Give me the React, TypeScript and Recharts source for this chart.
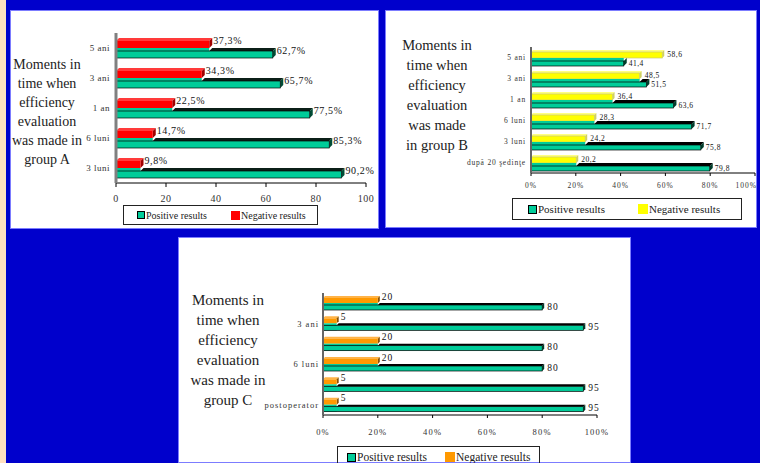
import { BarChart, Bar, XAxis, YAxis, LabelList } from "recharts";

// group A
const momentsA = ["5 ani", "3 ani", "1 an", "6 luni", "3 luni"];
const positiveA = [62.7, 65.7, 77.5, 85.3, 90.2];
const negativeA = [37.3, 34.3, 22.5, 14.7, 9.8];

// group B
const momentsB = ["5 ani", "3 ani", "1 an", "6 luni", "3 luni", "după 20 şedinţe"];
const positiveB = [41.4, 51.5, 63.6, 71.7, 75.8, 79.8];
const negativeB = [58.6, 48.5, 36.4, 28.3, 24.2, 20.2];

// group C (only every second moment is labelled on the axis)
const momentsC = ["5 ani", "3 ani", "1 an", "6 luni", "3 luni", "postoperator"];
const positiveC = [80, 95, 80, 80, 95, 95];
const negativeC = [20, 5, 20, 20, 5, 5];

const xTicks = [0, 20, 40, 60, 80, 100];
const axisTitleLines = {
  A: ["Moments in", "time when", "efficiency", "evaluation", "was made in", "group A"],
  B: ["Moments in", "time when", "efficiency", "evaluation", "was made", "in group B"],
  C: ["Moments in", "time when", "efficiency", "evaluation", "was made in", "group C"],
};
const legendLabels = ["Positive results", "Negative results"];

const SERIF = "Liberation Serif, DejaVu Serif, serif";
const GREEN = "#00cc99";

function rows(moments: string[], pos: number[], neg: number[]) {
  return moments.map((m, i) => ({ moment: m, pos: pos[i], neg: neg[i] }));
}

const dataA = rows(momentsA, positiveA, negativeA);
const dataB = rows(momentsB, positiveB, negativeB);
const dataC = rows(momentsC, positiveC, negativeC);

// bar with a little excel-style 3d top and side face
function Bar3D(props: any) {
  const { x, y, width, height, fill, top, side, edge, depth, payload, coverKey } = props;
  if (!(width > 0) || !(height > 0)) return null;
  const d = depth;
  const r = x + width;
  let cx = x;
  if (coverKey && payload && payload.pos > 0) {
    cx = x + Math.min(width, (width * payload[coverKey]) / payload.pos);
  }
  return (
    <g>
      {cx > x && <rect x={x} y={y} width={cx - x} height={height} fill={fill} />}
      <polygon points={`${cx},${y + d} ${cx + d},${y} ${r + d},${y} ${r},${y + d}`} fill={top} />
      <polygon
        points={`${r},${y + d} ${r + d},${y} ${r + d},${y + height - d} ${r},${y + height}`}
        fill={side}
      />
      <rect
        x={x}
        y={y + d}
        width={width}
        height={height - d}
        fill={fill}
        stroke={edge ?? "none"}
        strokeWidth={0.7}
      />
    </g>
  );
}

function valueLabel(fmt: (v: number) => string, size: number, dx: number, dy: number, ls: number) {
  return (p: any) => {
    const vb = p.viewBox ?? {};
    const bx = vb.x ?? p.x;
    const by = vb.y ?? p.y;
    const bw = vb.width ?? p.width;
    const bh = vb.height ?? p.height;
    if (bx == null) return null;
    return (
      <text
        x={bx + bw + dx}
        y={by + bh / 2 + dy}
        fontSize={size}
        fontFamily={SERIF}
        letterSpacing={ls}
        fill="#111"
        dominantBaseline="central"
      >
        {fmt(Number(p.value))}
      </text>
    );
  };
}

function AxisTitle({ lines, left, top, width, fontSize, lineHeight }: any) {
  return (
    <div
      style={{
        position: "absolute",
        left,
        top,
        width,
        textAlign: "center",
        fontFamily: SERIF,
        fontSize,
        lineHeight: `${lineHeight}px`,
        color: "#222",
        whiteSpace: "nowrap",
      }}
    >
      {lines.map((l: string) => (
        <div key={l}>{l}</div>
      ))}
    </div>
  );
}

function LegendBox({ left, top, width, height, fontSize, items }: any) {
  return (
    <div
      style={{
        position: "absolute",
        left,
        top,
        width,
        height,
        border: "1px solid #222",
        boxSizing: "border-box",
        fontFamily: SERIF,
        fontSize,
        color: "#222",
      }}
    >
      {items.map((it: any) => (
        <div
          key={it.label}
          style={{
            position: "absolute",
            left: it.x,
            top: 0,
            height: height - 2,
            display: "flex",
            alignItems: "center",
            whiteSpace: "nowrap",
          }}
        >
          <span
            style={{
              display: "inline-block",
              width: it.size,
              height: it.size,
              background: it.color,
              border: it.border ?? "none",
              boxSizing: "border-box",
              marginRight: 1,
            }}
          />
          {it.label}
        </div>
      ))}
    </div>
  );
}

const panelStyle = (left: number, top: number, width: number, height: number): any => ({
  position: "absolute",
  left,
  top,
  width,
  height,
  background: "#fff",
  boxShadow: "inset 0 0 0 1px #7c7cff",
  overflow: "hidden",
});

export default function App() {
  const commaPct = (v: number) => v.toFixed(1).replace(".", ",") + "%";
  const comma = (v: number) => v.toFixed(1).replace(".", ",");
  const plain = (v: number) => String(v);

  return (
    <div
      style={{
        position: "absolute",
        left: 0,
        top: 0,
        width: 760,
        height: 463,
        background: "#0000cc",
        overflow: "hidden",
        fontFamily: SERIF,
      }}
    >
      <div style={{ position: "absolute", left: 0, top: 0, width: 6, height: 463, background: "#ffe0c0" }} />

      {/* group A */}
      <div style={panelStyle(10, 10, 369, 219)}>
        <BarChart
          width={369}
          height={219}
          layout="vertical"
          data={dataA}
          margin={{ top: 23, right: 13, bottom: 0, left: 0 }}
          barGap={0}
        >
          <XAxis
            type="number"
            domain={[0, 100]}
            ticks={xTicks}
            height={46}
            tickSize={4}
            tickMargin={8}
            stroke="#000"
            tick={{ fontSize: 10, fill: "#333", fontFamily: SERIF, letterSpacing: 0.5 }}
          />
          <YAxis
            type="category"
            dataKey="moment"
            width={106}
            tickLine={false}
            tickSize={0}
            tickMargin={6}
            axisLine={{ stroke: "#808080", strokeWidth: 3 }}
            tick={{ fontSize: 9, fill: "#333", fontFamily: SERIF, letterSpacing: 0.5 }}
          />
          <Bar
            dataKey="neg"
            fill="#ff0000"
            barSize={10}
            isAnimationActive={false}
            shape={(p: any) => <Bar3D {...p} depth={3} top="#ff3a3a" side="#a00000" />}
          >
            <LabelList dataKey="neg" content={valueLabel(commaPct, 10, 4, -3, 0.6)} />
          </Bar>
          <Bar
            dataKey="pos"
            fill={GREEN}
            barSize={10}
            isAnimationActive={false}
            shape={(p: any) => (
              <Bar3D {...p} depth={3} top="#0b1f18" side="#004d36" edge="#000" coverKey="neg" />
            )}
          >
            <LabelList dataKey="pos" content={valueLabel(commaPct, 10, 4, -3, 0.6)} />
          </Bar>
        </BarChart>
        <AxisTitle lines={axisTitleLines.A} left={-3} top={45} width={80} fontSize={14} lineHeight={19} />
        <LegendBox
          left={113}
          top={195}
          width={195}
          height={20}
          fontSize={10}
          items={[
            { label: legendLabels[0], x: 13, size: 8, color: GREEN, border: "1px solid #000" },
            { label: legendLabels[1], x: 107, size: 9, color: "#ff0000" },
          ]}
        />
      </div>

      {/* group B */}
      <div style={panelStyle(385, 10, 372, 218)}>
        <BarChart
          width={372}
          height={218}
          layout="vertical"
          data={dataB}
          margin={{ top: 37, right: 2, bottom: 0, left: 0 }}
          barGap={0}
        >
          <XAxis
            type="number"
            domain={[0, 100]}
            ticks={xTicks}
            tickFormatter={(v) => `${v}%`}
            height={55}
            tickSize={3}
            tickMargin={7}
            stroke="#000"
            tick={{ fontSize: 7.5, fill: "#333", fontFamily: SERIF, letterSpacing: 1 }}
          />
          <YAxis
            type="category"
            dataKey="moment"
            width={146}
            tickLine={false}
            tickSize={0}
            tickMargin={5}
            axisLine={{ stroke: "#666", strokeWidth: 2 }}
            tick={{ fontSize: 7.5, fill: "#333", fontFamily: SERIF, letterSpacing: 0.8 }}
          />
          <Bar
            dataKey="neg"
            fill="#ffff00"
            barSize={8}
            isAnimationActive={false}
            shape={(p: any) => <Bar3D {...p} depth={2} top="#ffff80" side="#d0d060" edge="#c8c870" />}
          >
            <LabelList dataKey="neg" content={valueLabel(comma, 7.5, 5, 0, 0.5)} />
          </Bar>
          <Bar
            dataKey="pos"
            fill={GREEN}
            barSize={8}
            isAnimationActive={false}
            shape={(p: any) => (
              <Bar3D {...p} depth={3} top="#000" side="#003d2b" edge="#000" coverKey="neg" />
            )}
          >
            <LabelList dataKey="pos" content={valueLabel(comma, 7.5, 5, 1, 0.5)} />
          </Bar>
        </BarChart>
        <AxisTitle lines={axisTitleLines.B} left={2} top={25} width={100} fontSize={14.5} lineHeight={20} />
        <LegendBox
          left={127}
          top={188}
          width={230}
          height={22}
          fontSize={11}
          items={[
            { label: legendLabels[0], x: 15, size: 9, color: GREEN, border: "1px solid #000" },
            { label: legendLabels[1], x: 125, size: 10, color: "#ffff00" },
          ]}
        />
      </div>

      {/* group C */}
      <div style={panelStyle(178, 237, 453, 226)}>
        <BarChart
          width={453}
          height={226}
          layout="vertical"
          data={dataC}
          margin={{ top: 56, right: 34, bottom: 0, left: 0 }}
          barGap={0}
        >
          <XAxis
            type="number"
            domain={[0, 100]}
            ticks={xTicks}
            tickFormatter={(v) => `${v}%`}
            height={48}
            tickSize={3}
            tickMargin={11}
            stroke="#000"
            tick={{ fontSize: 8.5, fill: "#333", fontFamily: SERIF, letterSpacing: 1.2 }}
          />
          <YAxis
            type="category"
            dataKey="moment"
            width={145}
            interval={0}
            tickLine={false}
            tickSize={0}
            tickMargin={4}
            tickFormatter={(v, i) => (i % 2 === 1 ? v : "")}
            axisLine={{ stroke: "#666", strokeWidth: 2 }}
            tick={{ fontSize: 8.5, fill: "#333", fontFamily: SERIF, letterSpacing: 1 }}
          />
          <Bar
            dataKey="neg"
            fill="#ff9900"
            barSize={7}
            isAnimationActive={false}
            shape={(p: any) => <Bar3D {...p} depth={2} top="#ffb347" side="#8a5200" />}
          >
            <LabelList dataKey="neg" content={valueLabel(plain, 9.5, 4, -3, 1)} />
          </Bar>
          <Bar
            dataKey="pos"
            fill={GREEN}
            barSize={7}
            isAnimationActive={false}
            shape={(p: any) => (
              <Bar3D {...p} depth={2} top="#000" side="#003d2b" edge="#000" coverKey="neg" />
            )}
          >
            <LabelList dataKey="pos" content={valueLabel(plain, 9.5, 5, 0, 1)} />
          </Bar>
        </BarChart>
        <AxisTitle lines={axisTitleLines.C} left={0} top={53} width={100} fontSize={15} lineHeight={20} />
        <LegendBox
          left={159}
          top={209}
          width={203}
          height={22}
          fontSize={11.5}
          items={[
            { label: legendLabels[0], x: 9, size: 9, color: GREEN, border: "1px solid #000" },
            { label: legendLabels[1], x: 107, size: 10, color: "#ff9900" },
          ]}
        />
      </div>
    </div>
  );
}
